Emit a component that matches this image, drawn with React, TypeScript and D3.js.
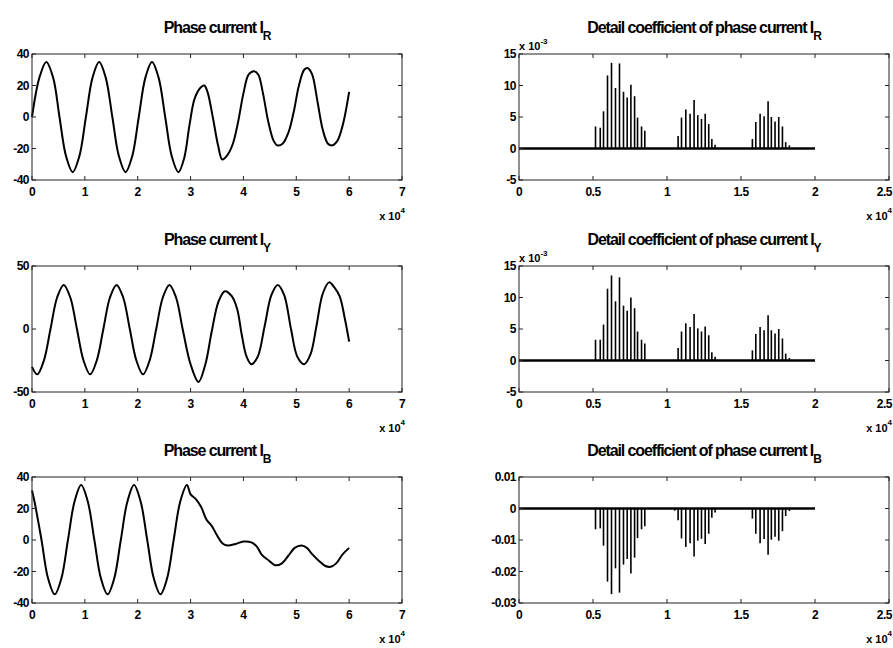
import * as d3 from 'd3';

// ---- data (x in units of 1e4 samples) ----
const phaseR: [number, number][] = [
  [0, 0], [0.14, 25], [0.27, 35], [0.4, 25], [0.52, 0], [0.645, -25], [0.77, -35], [0.895, -25],
  [1.02, 0], [1.145, 25], [1.27, 35], [1.395, 25], [1.52, 0], [1.645, -25], [1.77, -35], [1.895, -25],
  [2.02, 0], [2.145, 25], [2.27, 35], [2.395, 25], [2.52, 0], [2.645, -25], [2.77, -35], [2.88, -26],
  [2.98, -5], [3.08, 12], [3.2, 19], [3.26, 20], [3.32, 16], [3.42, 0], [3.52, -18], [3.6, -27],
  [3.7, -24], [3.8, -17], [3.9, -3], [4.0, 15], [4.1, 27], [4.2, 29], [4.28, 27], [4.37, 15],
  [4.47, -3], [4.57, -15], [4.64, -18], [4.74, -17], [4.85, -10], [4.95, 3], [5.05, 20], [5.15, 30],
  [5.22, 31], [5.3, 27], [5.4, 10], [5.5, -8], [5.6, -17], [5.68, -18], [5.78, -15], [5.88, -5], [6.0, 16],
];

const phaseY: [number, number][] = [
  [0, -30], [0.1, -36], [0.225, -25], [0.35, 0], [0.475, 25], [0.6, 35], [0.725, 25], [0.85, 0],
  [0.975, -25], [1.1, -36], [1.225, -25], [1.35, 0], [1.475, 25], [1.6, 35], [1.725, 25], [1.85, 0],
  [1.975, -25], [2.1, -36], [2.225, -25], [2.35, 0], [2.475, 25], [2.6, 35], [2.725, 25], [2.85, 0],
  [3.0, -28], [3.15, -42], [3.28, -28], [3.4, -2], [3.53, 22], [3.65, 30], [3.78, 26], [3.88, 16],
  [3.97, -5], [4.06, -22], [4.15, -28], [4.27, -22], [4.4, 2], [4.53, 27], [4.65, 35], [4.77, 27],
  [4.9, 0], [5.02, -22], [5.15, -28], [5.27, -20], [5.38, 2], [5.5, 28], [5.62, 37], [5.72, 33],
  [5.82, 26], [5.92, 8], [6.0, -10],
];

const phaseB: [number, number][] = [
  [0, 31.5], [0.05, 24], [0.18, 0], [0.305, -24.5], [0.43, -34.5], [0.555, -24.5], [0.68, 0], [0.805, 24.5],
  [0.93, 35], [1.055, 24.5], [1.18, 0], [1.305, -24.5], [1.43, -34.5], [1.555, -24.5], [1.68, 0], [1.805, 24.5],
  [1.93, 35], [2.055, 24.5], [2.18, 0], [2.305, -24.5], [2.43, -34.5], [2.555, -24.5], [2.68, 0], [2.805, 24.5],
  [2.93, 35], [3.0, 29], [3.1, 26], [3.2, 21], [3.3, 13], [3.4, 9], [3.5, 3], [3.6, -2], [3.7, -3.5],
  [3.85, -2.5], [4.0, -1], [4.15, -1.5], [4.25, -4], [4.35, -9.5], [4.48, -13], [4.6, -16], [4.72, -15],
  [4.85, -10], [4.97, -5], [5.1, -3.5], [5.2, -5], [5.3, -9], [5.42, -13], [5.55, -16.5], [5.65, -17],
  [5.75, -15], [5.88, -9], [6.0, -5],
];

// stem positions of the detail coefficients (same for all phases)
const stemX = [
  0.517, 0.549, 0.571, 0.598, 0.625, 0.652, 0.679, 0.706, 0.731, 0.756, 0.781, 0.801, 0.828, 0.85,
  1.075, 1.098, 1.127, 1.156, 1.183, 1.208, 1.233, 1.258, 1.282, 1.303, 1.325,
  1.577, 1.6, 1.629, 1.656, 1.683, 1.705, 1.73, 1.755, 1.78, 1.802, 1.827,
];
// heights in 1e-3
const detailR = [
  3.5, 3.3, 5.9, 11.6, 13.6, 9.6, 13.5, 9.0, 8.1, 10.1, 8.3, 4.9, 3.5, 2.8,
  2.0, 4.9, 6.2, 5.5, 7.7, 5.3, 4.7, 5.5, 3.9, 1.5, 0.6,
  1.5, 4.2, 5.5, 5.1, 7.5, 5.0, 4.3, 5.0, 3.5, 1.0, 0.5,
];
const detailY = [
  3.3, 3.3, 5.7, 11.4, 13.5, 9.4, 13.2, 8.7, 7.9, 10.0, 8.3, 4.6, 3.3, 2.7,
  2.0, 4.6, 5.9, 5.3, 7.4, 5.1, 4.6, 5.4, 4.0, 1.3, 0.6,
  1.6, 4.2, 5.3, 4.8, 7.2, 4.8, 4.3, 5.0, 3.5, 1.1, 0.4,
];
const detailB = [
  -0.0066, -0.0063, -0.0118, -0.0232, -0.0272, -0.019, -0.0267, -0.0178, -0.016, -0.0206, -0.0156, -0.0094, -0.0066, -0.0056,
  -0.0037, -0.0095, -0.0122, -0.011, -0.0152, -0.0102, -0.0096, -0.0113, -0.008, -0.0029, -0.0013, -0.0007,
  -0.0032, -0.008, -0.011, -0.0097, -0.0147, -0.0099, -0.009, -0.0102, -0.0072, -0.0024, -0.0008,
];
const detailBX = [
  0.517, 0.549, 0.571, 0.598, 0.625, 0.652, 0.679, 0.706, 0.731, 0.756, 0.781, 0.801, 0.828, 0.85,
  1.075, 1.098, 1.127, 1.156, 1.183, 1.208, 1.233, 1.258, 1.282, 1.303, 1.325, 1.052,
  1.577, 1.6, 1.629, 1.656, 1.683, 1.705, 1.73, 1.755, 1.78, 1.802, 1.827,
];
const baselineX = [0, 2];

const leftXTicks = [0, 1, 2, 3, 4, 5, 6, 7];
const rightXTicks = [0, 0.5, 1, 1.5, 2, 2.5];
const currentTicks40 = [-40, -20, 0, 20, 40];
const currentTicks50 = [-50, 0, 50];
const detailTicks = [-5, 0, 5, 10, 15];
const detailTicksB = [-0.03, -0.02, -0.01, 0, 0.01];

const FONT = "'Liberation Sans', Arial, sans-serif";
const ROWS = [54, 266, 477];
const BOX_H = 126;
const LEFT = { x0: 32, x1: 402 };
const RIGHT = { x0: 519, x1: 889 };
const PAGE_W = 893;

type PanelProps = {
  x0: number; x1: number; top: number;
  xDomain: [number, number]; yDomain: [number, number];
  xTicks: number[]; yTicks: number[];
  title: string; sub: string;
  yExp?: string;
  children: (x: d3.ScaleLinear<number, number>, y: d3.ScaleLinear<number, number>) => React.ReactNode;
};

function Panel({ x0, x1, top, xDomain, yDomain, xTicks, yTicks, title, sub, yExp, children }: PanelProps) {
  const bottom = top + BOX_H;
  const x = d3.scaleLinear().domain(xDomain).range([x0, x1]);
  const y = d3.scaleLinear().domain(yDomain).range([bottom, top]);
  const tl = 4;
  return (
    <g>
      {children(x, y)}
      <rect x={x0} y={top} width={x1 - x0} height={BOX_H} fill="none" stroke="#222" strokeWidth={1} />
      {xTicks.map(t => {
        const px = x(t);
        // keep the last label on the page
        const edge = px + 8 > PAGE_W;
        return (
          <g key={'x' + t}>
            <line x1={px} x2={px} y1={bottom} y2={bottom - tl} stroke="#222" />
            <line x1={px} x2={px} y1={top} y2={top + tl} stroke="#222" />
            <text x={edge ? PAGE_W - 1 : px} y={bottom + 16} textAnchor={edge ? 'end' : 'middle'}
              fontSize={12} fontWeight="bold" letterSpacing={-0.5}>{t}</text>
          </g>
        );
      })}
      {yTicks.map(t => (
        <g key={'y' + t}>
          <line x1={x0} x2={x0 + tl} y1={y(t)} y2={y(t)} stroke="#222" />
          <line x1={x1} x2={x1 - tl} y1={y(t)} y2={y(t)} stroke="#222" />
          <text x={x0 - 3} y={y(t) + 4} textAnchor="end" fontSize={12} fontWeight="bold" letterSpacing={-0.5}>{t}</text>
        </g>
      ))}
      <text x={(x0 + x1) / 2} y={top - 21} textAnchor="middle" fontSize={16} fontWeight="bold" letterSpacing={-1.1}>
        {title}<tspan fontSize={12} dy={7}>{sub}</tspan>
      </text>
      <text x={Math.min(x1 + 3, PAGE_W - 1)} y={bottom + 40} textAnchor="end" fontSize={11} fontWeight="bold">
        x 10<tspan fontSize={8} dy={-7}>4</tspan>
      </text>
      {yExp && (
        <text x={x0} y={top - 4} fontSize={11} fontWeight="bold">
          x 10<tspan fontSize={8} dy={-6}>{yExp}</tspan>
        </text>
      )}
    </g>
  );
}

function CurrentPanel({ top, data, ticks, sub }: { top: number; data: [number, number][]; ticks: number[]; sub: string }) {
  const ext = d3.extent(ticks) as [number, number];
  return (
    <Panel x0={LEFT.x0} x1={LEFT.x1} top={top} xDomain={[0, 7]} yDomain={ext}
      xTicks={leftXTicks} yTicks={ticks} title="Phase current I" sub={sub}>
      {(x, y) => {
        const line = d3.line<[number, number]>().x(d => x(d[0])).y(d => y(d[1])).curve(d3.curveCatmullRom.alpha(0.5));
        return <path d={line(data) || ''} fill="none" stroke="#000" strokeWidth={2} />;
      }}
    </Panel>
  );
}

function DetailPanel({ top, xs, vals, ticks, sub, yExp }: { top: number; xs: number[]; vals: number[]; ticks: number[]; sub: string; yExp?: string }) {
  const ext = d3.extent(ticks) as [number, number];
  return (
    <Panel x0={RIGHT.x0} x1={RIGHT.x1} top={top} xDomain={[0, 2.5]} yDomain={ext}
      xTicks={rightXTicks} yTicks={ticks} title="Detail coefficient of phase current I" sub={sub} yExp={yExp}>
      {(x, y) => (
        <g>
          {vals.map((v, i) => (
            <line key={i} x1={x(xs[i])} x2={x(xs[i])} y1={y(0)} y2={y(v)} stroke="#000" strokeWidth={1.6} />
          ))}
          <line x1={x(baselineX[0])} x2={x(baselineX[1])} y1={y(0)} y2={y(0)} stroke="#000" strokeWidth={2.5} />
        </g>
      )}
    </Panel>
  );
}

export default function App() {
  return (
    <svg width={893} height={648} style={{ position: 'absolute', left: 0, top: 0, background: '#fff', fontFamily: FONT }}>
      <CurrentPanel top={ROWS[0]} data={phaseR} ticks={currentTicks40} sub="R" />
      <CurrentPanel top={ROWS[1]} data={phaseY} ticks={currentTicks50} sub="Y" />
      <CurrentPanel top={ROWS[2]} data={phaseB} ticks={currentTicks40} sub="B" />
      <DetailPanel top={ROWS[0]} xs={stemX} vals={detailR} ticks={detailTicks} sub="R" yExp="-3" />
      <DetailPanel top={ROWS[1]} xs={stemX} vals={detailY} ticks={detailTicks} sub="Y" yExp="-3" />
      <DetailPanel top={ROWS[2]} xs={detailBX} vals={detailB} ticks={detailTicksB} sub="B" />
    </svg>
  );
}
